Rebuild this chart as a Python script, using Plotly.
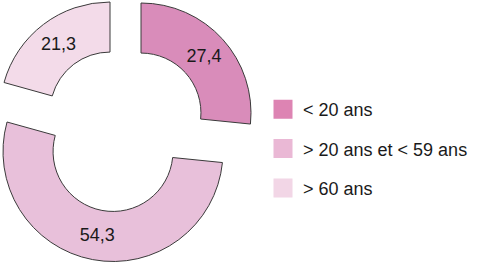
import plotly.graph_objects as go

# ---- data ----
labels = ["< 20 ans", "> 20 ans et < 59 ans", "> 60 ans"]
values = [27.4, 54.3, 21.3]
value_text = ["27,4", "54,3", "21,3"]

# ---- style ----
colors = ["#d98cba", "#e8c0da", "#f3dbe9"]
legend_colors = ["#dd84b3", "#eab8d5", "#f2d6e6"]
line_color = "#3a3a3a"
W, H = 477, 262
R = 110          # outer radius in px
HOLE = 0.545
# centre of each exploded slice (px, from top-left)
slice_centres = [(141, 113), (113, 151.5), (110, 112)]

fig = go.Figure()

for i, (cx, cy) in enumerate(slice_centres):
    x0 = max(0.0, (cx - R) / W)
    x1 = min(1.0, (cx + R) / W)
    y0 = max(0.0, 1 - (cy + R) / H)
    y1 = min(1.0, 1 - (cy - R) / H)
    fig.add_trace(go.Pie(
        labels=labels,
        values=values,
        sort=False,
        direction="clockwise",
        rotation=0,
        hole=HOLE,
        domain=dict(x=[x0, x1], y=[y0, y1]),
        marker=dict(
            colors=[colors[j] if j == i else "rgba(0,0,0,0)" for j in range(len(values))],
            line=dict(
                color=[line_color if j == i else "rgba(0,0,0,0)" for j in range(len(values))],
                width=[1 if j == i else 0 for j in range(len(values))],
            ),
        ),
        text=[value_text[j] if j == i else "" for j in range(len(values))],
        textinfo="text",
        textposition="inside",
        insidetextorientation="horizontal",
        textfont=dict(family="Liberation Sans, Arial, sans-serif", size=18, color="#1a1a1a"),
        hoverinfo="skip",
        showlegend=False,
    ))

# legend entries
for i, lab in enumerate(labels):
    fig.add_trace(go.Scatter(
        x=[None], y=[None], mode="markers", name=lab,
        legendgroup=f"g{i}",
        marker=dict(symbol="square", size=16, color=legend_colors[i],
                    line=dict(color=legend_colors[i], width=3)),
        hoverinfo="skip",
    ))

fig.update_layout(
    width=W, height=H,
    margin=dict(l=0, r=0, t=0, b=0),
    paper_bgcolor="white", plot_bgcolor="white",
    xaxis=dict(visible=False), yaxis=dict(visible=False),
    hovermode=False,
    showlegend=True,
    legend=dict(
        x=263 / W, y=1 - 91 / H, xanchor="left", yanchor="top",
        font=dict(family="Liberation Sans, Arial, sans-serif", size=18, color="#1a1a1a"),
        tracegroupgap=13,
        bgcolor="rgba(0,0,0,0)",
        itemsizing="trace",
    ),
)

fig.write_html("out.html", config={"displayModeBar": False})
